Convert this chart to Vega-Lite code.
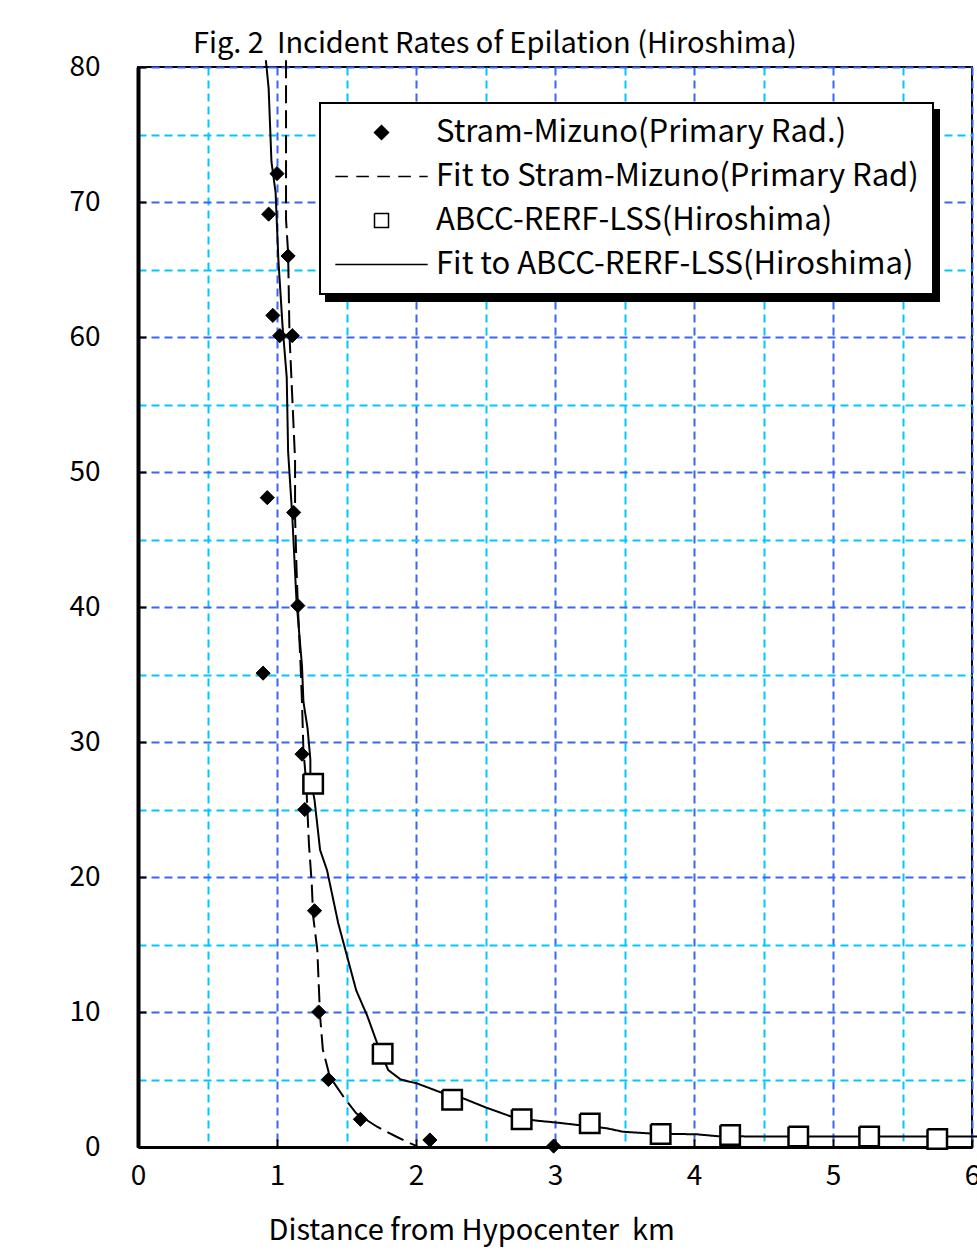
{
  "$schema": "https://vega.github.io/schema/vega-lite/v6.json",
  "width": 834,
  "height": 1080,
  "autosize": "none",
  "padding": {"left": 138, "top": 67, "right": 5, "bottom": 112},
  "background": "white",
  "title": {"text": "Fig. 2\u00a0 Incident Rates of Epilation (Hiroshima)", "anchor": "start", "dx": 124, "offset": -6, "fontSize": 29, "fontWeight": "normal", "font": "Noto Sans CJK JP", "color": "black"},
  "config": {
    "view": {"stroke": "black", "strokeWidth": 2},
    "font": "Noto Sans CJK JP",
    "legend": {"strokeWidth": 2}
  },
  "data": {"values": [
    {"km": 1.00, "rate": 72.1, "series": "Stram-Mizuno(Primary Rad.)"},
    {"km": 0.94, "rate": 69.1, "series": "Stram-Mizuno(Primary Rad.)"},
    {"km": 1.08, "rate": 66.0, "series": "Stram-Mizuno(Primary Rad.)"},
    {"km": 0.97, "rate": 61.6, "series": "Stram-Mizuno(Primary Rad.)"},
    {"km": 1.02, "rate": 60.1, "series": "Stram-Mizuno(Primary Rad.)"},
    {"km": 1.11, "rate": 60.1, "series": "Stram-Mizuno(Primary Rad.)"},
    {"km": 0.93, "rate": 48.1, "series": "Stram-Mizuno(Primary Rad.)"},
    {"km": 1.12, "rate": 47.0, "series": "Stram-Mizuno(Primary Rad.)"},
    {"km": 1.15, "rate": 40.1, "series": "Stram-Mizuno(Primary Rad.)"},
    {"km": 0.90, "rate": 35.1, "series": "Stram-Mizuno(Primary Rad.)"},
    {"km": 1.18, "rate": 29.1, "series": "Stram-Mizuno(Primary Rad.)"},
    {"km": 1.20, "rate": 25.0, "series": "Stram-Mizuno(Primary Rad.)"},
    {"km": 1.27, "rate": 17.5, "series": "Stram-Mizuno(Primary Rad.)"},
    {"km": 1.30, "rate": 10.0, "series": "Stram-Mizuno(Primary Rad.)"},
    {"km": 1.37, "rate": 5.0, "series": "Stram-Mizuno(Primary Rad.)"},
    {"km": 1.60, "rate": 2.05, "series": "Stram-Mizuno(Primary Rad.)"},
    {"km": 2.10, "rate": 0.52, "series": "Stram-Mizuno(Primary Rad.)"},
    {"km": 2.99, "rate": 0.07, "series": "Stram-Mizuno(Primary Rad.)"},

    {"km": 1.26, "rate": 26.9, "series": "ABCC-RERF-LSS(Hiroshima)"},
    {"km": 1.76, "rate": 6.9, "series": "ABCC-RERF-LSS(Hiroshima)"},
    {"km": 2.26, "rate": 3.5, "series": "ABCC-RERF-LSS(Hiroshima)"},
    {"km": 2.76, "rate": 2.05, "series": "ABCC-RERF-LSS(Hiroshima)"},
    {"km": 3.25, "rate": 1.75, "series": "ABCC-RERF-LSS(Hiroshima)"},
    {"km": 3.76, "rate": 0.96, "series": "ABCC-RERF-LSS(Hiroshima)"},
    {"km": 4.26, "rate": 0.89, "series": "ABCC-RERF-LSS(Hiroshima)"},
    {"km": 4.75, "rate": 0.77, "series": "ABCC-RERF-LSS(Hiroshima)"},
    {"km": 5.26, "rate": 0.77, "series": "ABCC-RERF-LSS(Hiroshima)"},
    {"km": 5.75, "rate": 0.59, "series": "ABCC-RERF-LSS(Hiroshima)"},

    {"km": 1.065, "rate": 80.5, "series": "Fit to Stram-Mizuno(Primary Rad)"},
    {"km": 1.065, "rate": 68.7, "series": "Fit to Stram-Mizuno(Primary Rad)"},
    {"km": 1.08, "rate": 66.2, "series": "Fit to Stram-Mizuno(Primary Rad)"},
    {"km": 1.09, "rate": 60.1, "series": "Fit to Stram-Mizuno(Primary Rad)"},
    {"km": 1.13, "rate": 50.9, "series": "Fit to Stram-Mizuno(Primary Rad)"},
    {"km": 1.13, "rate": 46.7, "series": "Fit to Stram-Mizuno(Primary Rad)"},
    {"km": 1.14, "rate": 43.0, "series": "Fit to Stram-Mizuno(Primary Rad)"},
    {"km": 1.15, "rate": 40.1, "series": "Fit to Stram-Mizuno(Primary Rad)"},
    {"km": 1.17, "rate": 35.6, "series": "Fit to Stram-Mizuno(Primary Rad)"},
    {"km": 1.18, "rate": 32.9, "series": "Fit to Stram-Mizuno(Primary Rad)"},
    {"km": 1.19, "rate": 29.4, "series": "Fit to Stram-Mizuno(Primary Rad)"},
    {"km": 1.21, "rate": 27.0, "series": "Fit to Stram-Mizuno(Primary Rad)"},
    {"km": 1.23, "rate": 22.4, "series": "Fit to Stram-Mizuno(Primary Rad)"},
    {"km": 1.25, "rate": 19.5, "series": "Fit to Stram-Mizuno(Primary Rad)"},
    {"km": 1.26, "rate": 17.1, "series": "Fit to Stram-Mizuno(Primary Rad)"},
    {"km": 1.29, "rate": 14.6, "series": "Fit to Stram-Mizuno(Primary Rad)"},
    {"km": 1.30, "rate": 12.1, "series": "Fit to Stram-Mizuno(Primary Rad)"},
    {"km": 1.31, "rate": 9.7, "series": "Fit to Stram-Mizuno(Primary Rad)"},
    {"km": 1.33, "rate": 7.2, "series": "Fit to Stram-Mizuno(Primary Rad)"},
    {"km": 1.38, "rate": 5.2, "series": "Fit to Stram-Mizuno(Primary Rad)"},
    {"km": 1.48, "rate": 3.7, "series": "Fit to Stram-Mizuno(Primary Rad)"},
    {"km": 1.57, "rate": 2.5, "series": "Fit to Stram-Mizuno(Primary Rad)"},
    {"km": 1.72, "rate": 1.5, "series": "Fit to Stram-Mizuno(Primary Rad)"},
    {"km": 1.86, "rate": 0.76, "series": "Fit to Stram-Mizuno(Primary Rad)"},
    {"km": 1.96, "rate": 0.27, "series": "Fit to Stram-Mizuno(Primary Rad)"},
    {"km": 2.01, "rate": 0.05, "series": "Fit to Stram-Mizuno(Primary Rad)"},

    {"km": 0.92, "rate": 80.5, "series": "Fit to ABCC-RERF-LSS(Hiroshima)"},
    {"km": 0.94, "rate": 78.4, "series": "Fit to ABCC-RERF-LSS(Hiroshima)"},
    {"km": 0.96, "rate": 73.0, "series": "Fit to ABCC-RERF-LSS(Hiroshima)"},
    {"km": 0.99, "rate": 70.7, "series": "Fit to ABCC-RERF-LSS(Hiroshima)"},
    {"km": 1.01, "rate": 65.7, "series": "Fit to ABCC-RERF-LSS(Hiroshima)"},
    {"km": 1.04, "rate": 60.8, "series": "Fit to ABCC-RERF-LSS(Hiroshima)"},
    {"km": 1.07, "rate": 57.0, "series": "Fit to ABCC-RERF-LSS(Hiroshima)"},
    {"km": 1.08, "rate": 51.5, "series": "Fit to ABCC-RERF-LSS(Hiroshima)"},
    {"km": 1.11, "rate": 46.7, "series": "Fit to ABCC-RERF-LSS(Hiroshima)"},
    {"km": 1.14, "rate": 40.5, "series": "Fit to ABCC-RERF-LSS(Hiroshima)"},
    {"km": 1.18, "rate": 35.6, "series": "Fit to ABCC-RERF-LSS(Hiroshima)"},
    {"km": 1.19, "rate": 33.0, "series": "Fit to ABCC-RERF-LSS(Hiroshima)"},
    {"km": 1.22, "rate": 31.0, "series": "Fit to ABCC-RERF-LSS(Hiroshima)"},
    {"km": 1.24, "rate": 28.7, "series": "Fit to ABCC-RERF-LSS(Hiroshima)"},
    {"km": 1.24, "rate": 27.4, "series": "Fit to ABCC-RERF-LSS(Hiroshima)"},
    {"km": 1.27, "rate": 25.7, "series": "Fit to ABCC-RERF-LSS(Hiroshima)"},
    {"km": 1.31, "rate": 22.0, "series": "Fit to ABCC-RERF-LSS(Hiroshima)"},
    {"km": 1.36, "rate": 20.5, "series": "Fit to ABCC-RERF-LSS(Hiroshima)"},
    {"km": 1.44, "rate": 16.6, "series": "Fit to ABCC-RERF-LSS(Hiroshima)"},
    {"km": 1.51, "rate": 13.9, "series": "Fit to ABCC-RERF-LSS(Hiroshima)"},
    {"km": 1.57, "rate": 11.6, "series": "Fit to ABCC-RERF-LSS(Hiroshima)"},
    {"km": 1.65, "rate": 9.7, "series": "Fit to ABCC-RERF-LSS(Hiroshima)"},
    {"km": 1.72, "rate": 7.7, "series": "Fit to ABCC-RERF-LSS(Hiroshima)"},
    {"km": 1.80, "rate": 5.7, "series": "Fit to ABCC-RERF-LSS(Hiroshima)"},
    {"km": 1.89, "rate": 5.0, "series": "Fit to ABCC-RERF-LSS(Hiroshima)"},
    {"km": 2.01, "rate": 4.7, "series": "Fit to ABCC-RERF-LSS(Hiroshima)"},
    {"km": 2.19, "rate": 4.0, "series": "Fit to ABCC-RERF-LSS(Hiroshima)"},
    {"km": 2.34, "rate": 3.6, "series": "Fit to ABCC-RERF-LSS(Hiroshima)"},
    {"km": 2.51, "rate": 2.9, "series": "Fit to ABCC-RERF-LSS(Hiroshima)"},
    {"km": 2.70, "rate": 2.2, "series": "Fit to ABCC-RERF-LSS(Hiroshima)"},
    {"km": 2.87, "rate": 1.95, "series": "Fit to ABCC-RERF-LSS(Hiroshima)"},
    {"km": 3.02, "rate": 1.8, "series": "Fit to ABCC-RERF-LSS(Hiroshima)"},
    {"km": 3.37, "rate": 1.39, "series": "Fit to ABCC-RERF-LSS(Hiroshima)"},
    {"km": 3.49, "rate": 1.13, "series": "Fit to ABCC-RERF-LSS(Hiroshima)"},
    {"km": 3.69, "rate": 1.0, "series": "Fit to ABCC-RERF-LSS(Hiroshima)"},
    {"km": 4.02, "rate": 0.94, "series": "Fit to ABCC-RERF-LSS(Hiroshima)"},
    {"km": 4.17, "rate": 0.8, "series": "Fit to ABCC-RERF-LSS(Hiroshima)"},
    {"km": 4.6, "rate": 0.77, "series": "Fit to ABCC-RERF-LSS(Hiroshima)"},
    {"km": 5.3, "rate": 0.77, "series": "Fit to ABCC-RERF-LSS(Hiroshima)"},
    {"km": 6.04, "rate": 0.77, "series": "Fit to ABCC-RERF-LSS(Hiroshima)"}
  ]},
  "encoding": {
    "x": {
      "field": "km", "type": "quantitative",
      "scale": {"domain": [0, 6], "nice": false, "zero": false},
      "axis": {
        "title": "Distance from Hypocenter\u00a0 km",
        "values": [0, 0.5, 1, 1.5, 2, 2.5, 3, 3.5, 4, 4.5, 5, 5.5, 6],
        "grid": true,
        "gridColor": {"condition": {"test": "datum.value % 1 === 0", "value": "#3b66f2"}, "value": "#00c8ff"},
        "gridDash": [8, 5],
        "gridWidth": 2,
        "gridOpacity": 1,
        "labelExpr": "datum.value % 1 === 0 ? '' + datum.value : ''",
        "labelFontSize": 28,
        "labelColor": "black",
        "labelFont": "Noto Sans CJK JP",
        "labelFlush": false,
        "labelOverlap": false,
        "labelPadding": 23,
        "tickSize": -8,
        "tickWidth": 2,
        "tickColor": {"condition": {"test": "datum.value % 1 === 0", "value": "black"}, "value": "transparent"},
        "domainColor": "black",
        "domainWidth": 3,
        "titleFontSize": 29,
        "titleFont": "Noto Sans CJK JP",
        "titleFontWeight": "normal",
        "titleColor": "black",
        "titleX": 130,
        "titleY": 83,
        "titleAlign": "left",
        "titleBaseline": "middle"
      }
    },
    "y": {
      "field": "rate", "type": "quantitative",
      "scale": {"domain": [0, 80], "nice": false},
      "axis": {
        "title": null,
        "values": [0, 5, 10, 15, 20, 25, 30, 35, 40, 45, 50, 55, 60, 65, 70, 75, 80],
        "grid": true,
        "gridColor": {"condition": {"test": "datum.value % 10 === 0", "value": "#3b66f2"}, "value": "#00c8ff"},
        "gridDash": [8, 5],
        "gridWidth": 2,
        "gridOpacity": 1,
        "labelExpr": "datum.value % 10 === 0 ? '' + datum.value : ''",
        "labelFontSize": 28,
        "labelColor": "black",
        "labelFont": "Noto Sans CJK JP",
        "labelFlush": false,
        "labelOverlap": false,
        "labelPadding": 46,
        "tickSize": -8,
        "tickWidth": 2,
        "tickColor": {"condition": {"test": "datum.value % 10 === 0", "value": "black"}, "value": "transparent"},
        "domainColor": "black",
        "domainWidth": 4
      }
    }
  },
  "layer": [
    {
      "transform": [{"filter": {"field": "series", "oneOf": ["Fit to Stram-Mizuno(Primary Rad)", "Fit to ABCC-RERF-LSS(Hiroshima)"]}}],
      "mark": {"type": "line", "color": "black", "strokeWidth": 2, "clip": false},
      "encoding": {
        "strokeDash": {
          "field": "series", "type": "nominal",
          "scale": {"domain": ["Fit to Stram-Mizuno(Primary Rad)", "Fit to ABCC-RERF-LSS(Hiroshima)", "Stram-Mizuno(Primary Rad.)", "ABCC-RERF-LSS(Hiroshima)"], "range": [[18, 7], [1, 0], [1, 0], [1, 0]]},
          "legend": {
            "title": null, "orient": "none", "legendX": 188, "legendY": 43,
            "symbolSize": 196, "labelFontSize": 31, "labelFont": "Noto Sans CJK JP", "labelColor": "black", "labelLimit": 1000,
            "padding": 14, "rowPadding": 12, "strokeColor": "black", "fillColor": "black",
            "symbolOffset": 32, "labelOffset": 39,
            "encode": {"symbols": {"opacity": {"value": 0}}}
          }
        },
        "order": {"value": null}
      }
    },
    {
      "transform": [{"filter": {"field": "series", "equal": "ABCC-RERF-LSS(Hiroshima)"}}],
      "mark": {"type": "point", "shape": "square", "opacity": 1, "filled": true, "fill": "white", "strokeWidth": 0, "size": 380}
    },
    {
      "transform": [{"filter": {"field": "series", "oneOf": ["Stram-Mizuno(Primary Rad.)", "ABCC-RERF-LSS(Hiroshima)"]}}],
      "mark": {"type": "point", "opacity": 1, "filled": true, "stroke": "black"},
      "encoding": {
        "shape": {
          "field": "series", "type": "nominal",
          "scale": {"domain": ["Stram-Mizuno(Primary Rad.)", "Fit to Stram-Mizuno(Primary Rad)", "ABCC-RERF-LSS(Hiroshima)", "Fit to ABCC-RERF-LSS(Hiroshima)"], "range": ["diamond", "M-6.6,0H-4.8M-3.6,0H-1.8M-0.6,0H1.2M2.4,0H4.2M5.4,0H6.6", "M-1,-1H1V1H-1V-1V1H1V-1H-1", "M-6.6,0H6.6"]},
          "legend": {
            "title": null, "orient": "none", "legendX": 182, "legendY": 36,
            "symbolSize": 196,
            "labelFontSize": 31, "labelFont": "Noto Sans CJK JP", "labelColor": "black", "labelLimit": 1000,
            "padding": 14, "rowPadding": 12, "strokeColor": "black", "fillColor": "white",
            "symbolOffset": 32, "labelOffset": 39,
            "encode": {"symbols": {
              "stroke": {"value": "black"},
              "strokeWidth": {"value": 2},
              "opacity": {"value": 1}
            }}
          }
        },
        "fill": {"condition": {"test": "datum.series === 'ABCC-RERF-LSS(Hiroshima)'", "value": "white"}, "value": "black"},
        "size": {"condition": {"test": "datum.series === 'ABCC-RERF-LSS(Hiroshima)'", "value": 380}, "value": 200},
        "strokeWidth": {"condition": {"test": "datum.series === 'ABCC-RERF-LSS(Hiroshima)'", "value": 2.5}, "value": 1}
      }
    }
  ]
}
